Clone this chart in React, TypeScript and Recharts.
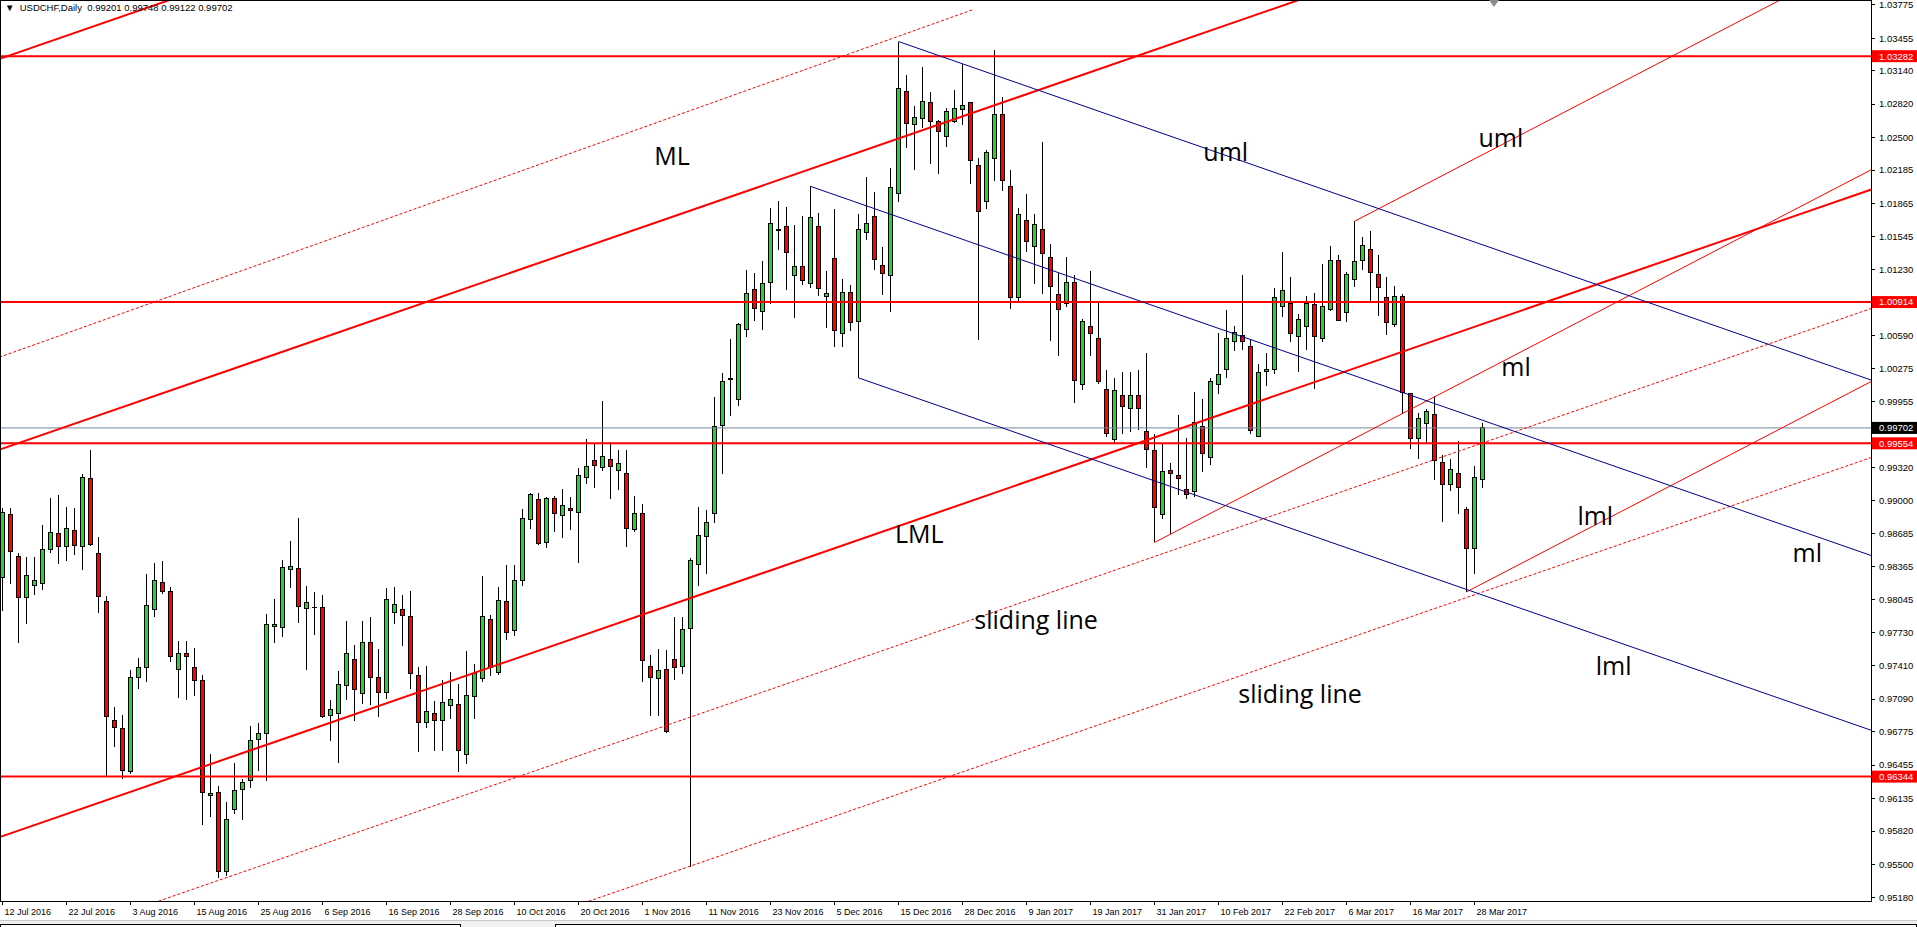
import React from 'react';
import { ComposedChart, Bar, XAxis, YAxis, ReferenceLine, ReferenceDot } from 'recharts';

// USDCHF daily bars, 12 Jul 2016 .. 29 Mar 2017
const opens = [
  0.98265, 0.98871, 0.98467, 0.98073, 0.98188, 0.98207, 0.98535, 0.98688, 0.98563, 0.98717,
  0.98563, 0.99218, 0.98496, 0.98034, 0.96880, 0.96803, 0.96396, 0.97294, 0.97390, 0.97957,
  0.98217, 0.98131, 0.97380, 0.97534, 0.97399, 0.97265, 0.96158, 0.96187, 0.95427, 0.96024,
  0.96216, 0.96303, 0.96697, 0.96755, 0.97793, 0.97783, 0.98342, 0.98352, 0.97966, 0.97970,
  0.97976, 0.96935, 0.96954, 0.97224, 0.97468, 0.97147, 0.97639, 0.97301, 0.97157, 0.97928,
  0.97957, 0.97889, 0.97320, 0.96867, 0.96954, 0.96887, 0.97031, 0.97041, 0.96559, 0.97118,
  0.97291, 0.97860, 0.97349, 0.98034, 0.97754, 0.98236, 0.98824, 0.99017, 0.98602, 0.99027,
  0.98861, 0.98930, 0.98887, 0.99220, 0.99384, 0.99316, 0.99395, 0.99294, 0.99263, 0.98723,
  0.98882, 0.97407, 0.97290, 0.97375, 0.97475, 0.97407, 0.97766, 0.98390, 0.98660, 0.98877,
  0.99728, 1.00172, 0.99977, 1.00654, 1.01034, 1.00823, 1.01098, 1.01611, 1.01642, 1.01172,
  1.01256, 1.01092, 1.01640, 1.00965, 1.01331, 1.00608, 1.01003, 1.00724, 1.01582, 1.01736,
  1.01264, 1.01167, 1.01958, 1.02941, 1.02623, 1.02681, 1.02835, 1.02652, 1.02508, 1.02652,
  1.02768, 1.02835, 1.02228, 1.01881, 1.02295, 1.02720, 1.02025, 1.00955, 1.01698, 1.01447,
  1.01611, 1.01341, 1.00984, 1.00897, 1.01104, 1.00120, 1.00679, 1.00563, 1.00072, 0.99589,
  1.00014, 0.99888, 1.00014, 0.99666, 0.99483, 0.98866, 0.99290, 0.99242, 0.99107, 0.99088,
  0.99715, 0.99416, 1.00120, 1.00264, 1.00534, 1.00592, 1.00486, 0.99618, 1.00245, 1.00264,
  1.00872, 1.00901, 1.00583, 1.00679, 1.00891, 1.00563, 1.00843, 1.01316, 1.00814, 1.01132,
  1.01316, 1.01422, 1.01181, 1.00959, 1.00698, 1.00969, 1.00030, 0.99599, 0.99744, 0.99830,
  0.99367, 0.99155, 0.99261, 0.98914, 0.98538, 0.99201,
];
const highs = [
  0.98930, 0.98932, 0.98496, 0.98461, 0.98461, 0.98769, 0.99025, 0.99057, 0.98942, 0.98932,
  0.99259, 0.99490, 0.98653, 0.98086, 0.97018, 0.96941, 0.97374, 0.97489, 0.98297, 0.98403,
  0.98422, 0.98169, 0.97653, 0.97653, 0.97585, 0.97322, 0.96566, 0.96255, 0.96104, 0.96479,
  0.96322, 0.96835, 0.96861, 0.97909, 0.98056, 0.98432, 0.98615, 0.98837, 0.98182, 0.98124,
  0.98095, 0.97079, 0.97362, 0.97838, 0.97613, 0.97838, 0.97883, 0.97571, 0.98162, 0.98172,
  0.98095, 0.98133, 0.97401, 0.97410, 0.97073, 0.97275, 0.97353, 0.97231, 0.97555, 0.97433,
  0.98278, 0.97902, 0.98172, 0.98378, 0.98384, 0.98924, 0.99078, 0.99078, 0.99036, 0.99046,
  0.99115, 0.99035, 0.99316, 0.99591, 0.99543, 0.99966, 0.99564, 0.99485, 0.99485, 0.99051,
  0.98966, 0.97518, 0.97570, 0.97560, 0.97877, 0.97877, 0.98454, 0.98945, 0.98908, 0.99998,
  1.00230, 1.00558, 1.00712, 1.01219, 1.01193, 1.01314, 1.01817, 1.01891, 1.01833, 1.01658,
  1.01743, 1.02028, 1.01768, 1.01209, 1.01807, 1.01138, 1.01081, 1.01765, 1.02115, 1.01971,
  1.01447, 1.02209, 1.03423, 1.03096, 1.02806, 1.03182, 1.02941, 1.02671, 1.02787, 1.02961,
  1.03202, 1.02845, 1.02305, 1.02382, 1.03337, 1.02893, 1.02189, 1.01823, 1.01958, 1.01765,
  1.02459, 1.01476, 1.01196, 1.01351, 1.01171, 1.00747, 1.01210, 1.00920, 1.00255, 1.00178,
  1.00245, 1.00245, 1.00264, 1.00428, 0.99647, 0.99560, 0.99367, 0.99830, 0.99602, 1.00052,
  0.99985, 1.00178, 1.00612, 1.00834, 1.00679, 1.01171, 1.00544, 1.00322, 1.00428, 1.01046,
  1.01393, 1.01152, 1.00795, 1.00969, 1.00997, 1.01277, 1.01451, 1.01364, 1.01200, 1.01692,
  1.01538, 1.01595, 1.01364, 1.01152, 1.01065, 1.00988, 1.00043, 0.99850, 0.99888, 1.00014,
  0.99445, 0.99406, 0.99580, 0.98943, 0.99338, 0.99748,
];
const lows = [
  0.97935, 0.98195, 0.97627, 0.97810, 0.98089, 0.98137, 0.98493, 0.98387, 0.98416, 0.98474,
  0.98329, 0.98560, 0.97916, 0.96341, 0.96626, 0.96322, 0.96367, 0.97191, 0.97252, 0.97877,
  0.98098, 0.97444, 0.97098, 0.97079, 0.97117, 0.95876, 0.95953, 0.95366, 0.95385, 0.95982,
  0.95924, 0.96232, 0.96396, 0.96303, 0.97629, 0.97693, 0.98156, 0.97828, 0.97375, 0.97703,
  0.96909, 0.96684, 0.96472, 0.97086, 0.96883, 0.97047, 0.97034, 0.96922, 0.97096, 0.97809,
  0.97597, 0.97186, 0.96578, 0.96809, 0.96594, 0.96594, 0.96896, 0.96385, 0.96463, 0.96896,
  0.97253, 0.97317, 0.97320, 0.97658, 0.97696, 0.98178, 0.98728, 0.98574, 0.98545, 0.98699,
  0.98644, 0.98723, 0.98401, 0.99162, 0.99125, 0.99289, 0.99014, 0.99104, 0.98559, 0.98702,
  0.97257, 0.96926, 0.96931, 0.96767, 0.97274, 0.97332, 0.95471, 0.98179, 0.98295, 0.98787,
  0.99263, 0.99813, 0.99913, 1.00574, 1.00727, 1.00648, 1.00897, 1.01415, 1.01029, 1.00764,
  1.01076, 1.01050, 1.00971, 1.00663, 1.00483, 1.00483, 1.00637, 1.00184, 1.01514, 1.01225,
  1.00984, 1.00820, 1.01881, 1.02401, 1.02186, 1.02594, 1.02244, 1.02148, 1.02411, 1.02643,
  1.02620, 1.02051, 1.00547, 1.01810, 1.02083, 1.01984, 1.00849, 1.00917, 1.01399, 1.01087,
  1.00991, 1.00541, 1.00396, 1.00869, 0.99943, 1.00068, 1.00396, 1.00129, 0.99618, 0.99560,
  0.99647, 0.99666, 0.99686, 0.99319, 0.98599, 0.98827, 0.98679, 0.99059, 0.99020, 0.99039,
  0.99281, 0.99348, 1.00033, 1.00178, 1.00438, 1.00457, 0.99647, 0.99615, 1.00101, 1.00226,
  1.00766, 1.00525, 1.00236, 1.00448, 1.00081, 1.00525, 1.00824, 1.00727, 1.00718, 1.01055,
  1.01219, 1.00911, 1.00776, 1.00592, 1.00670, 0.99840, 0.99502, 0.99406, 0.99551, 0.99203,
  0.98798, 0.99097, 0.98876, 0.98123, 0.98297, 0.99122,
];
const closes = [
  0.98891, 0.98512, 0.98073, 0.98278, 0.98236, 0.98535, 0.98698, 0.98563, 0.98737, 0.98573,
  0.99227, 0.98579, 0.98082, 0.96918, 0.96813, 0.96405, 0.97303, 0.97399, 0.97994, 0.98236,
  0.98131, 0.97505, 0.97534, 0.97496, 0.97265, 0.96187, 0.96178, 0.95427, 0.95927, 0.96206,
  0.96283, 0.96688, 0.96755, 0.97813, 0.97812, 0.98362, 0.98371, 0.97985, 0.98018, 0.97973,
  0.96925, 0.96986, 0.97234, 0.97533, 0.97186, 0.97639, 0.97301, 0.97157, 0.98053, 0.98005,
  0.97899, 0.97340, 0.96867, 0.96973, 0.96887, 0.97060, 0.97089, 0.96597, 0.97128, 0.97340,
  0.97889, 0.97398, 0.98043, 0.97735, 0.98236, 0.98834, 0.99056, 0.98593, 0.99027, 0.98882,
  0.98956, 0.98909, 0.99242, 0.99331, 0.99337, 0.99427, 0.99326, 0.99358, 0.98729, 0.98882,
  0.97465, 0.97301, 0.97364, 0.96777, 0.97396, 0.97756, 0.98427, 0.98665, 0.98787, 0.99717,
  1.00146, 1.00180, 1.00701, 1.00992, 1.00849, 1.01092, 1.01674, 1.01605, 1.01388, 1.01256,
  1.01124, 1.01732, 1.01042, 1.00994, 1.00637, 1.01003, 1.00714, 1.01611, 1.01669, 1.01322,
  1.01187, 1.02016, 1.02970, 1.02633, 1.02691, 1.02845, 1.02652, 1.02556, 1.02749, 1.02777,
  1.02806, 1.02276, 1.01784, 1.02353, 1.02720, 1.02083, 1.00955, 1.01756, 1.01495, 1.01659,
  1.01380, 1.01061, 1.00840, 1.01100, 1.00158, 1.00727, 1.00612, 1.00149, 0.99647, 1.00062,
  0.99908, 1.00014, 0.99888, 0.99493, 0.98933, 0.99281, 0.99261, 0.99213, 0.99059, 0.99753,
  0.99454, 1.00149, 1.00216, 1.00563, 1.00621, 1.00534, 0.99676, 1.00236, 1.00264, 1.00959,
  1.01026, 1.00612, 1.00747, 1.00901, 1.00583, 1.00872, 1.01316, 1.00737, 1.01181, 1.01306,
  1.01460, 1.01200, 1.01055, 1.00718, 1.00969, 1.00043, 0.99599, 0.99792, 0.99859, 0.99387,
  0.99155, 0.99300, 0.99126, 0.98538, 0.99223, 0.99702,
];

// bottom axis: one label every 8 bars, starting at bar 0
const dateLabels = [
  '12 Jul 2016', '22 Jul 2016', '3 Aug 2016', '15 Aug 2016', '25 Aug 2016', '6 Sep 2016',
  '16 Sep 2016', '28 Sep 2016', '10 Oct 2016', '20 Oct 2016', '1 Nov 2016', '11 Nov 2016',
  '23 Nov 2016', '5 Dec 2016', '15 Dec 2016', '28 Dec 2016', '9 Jan 2017', '19 Jan 2017',
  '31 Jan 2017', '10 Feb 2017', '22 Feb 2017', '6 Mar 2017', '16 Mar 2017', '28 Mar 2017',
];
const dateStep = 8;

const priceTicks = [
  1.03775, 1.03455, 1.0314, 1.0282, 1.025, 1.02185, 1.01865, 1.01545, 1.0123, 1.0059, 1.00275,
  0.99955, 0.9932, 0.99, 0.98685, 0.98365, 0.98045, 0.9773, 0.9741, 0.9709, 0.96775, 0.96455,
  0.96135, 0.9582, 0.955, 0.9518,
];

const levels = [1.03282, 1.00914, 0.99554, 0.96344];
const lastPrice = 0.99702;

// trend lines in [bar index, price] pairs
const thickRed = [
  [[-1, 1.03239], [25, 1.03933]],
  [[-1, 0.99476], [165, 1.03902]],
  [[-1, 0.95744], [240, 1.02169]],
];
const dottedRed = [
  [[-1, 1.00366], [121.2, 1.03727]],
  [[0, 0.94625], [240, 1.01023]],
  [[0, 0.9319], [240, 0.99588]],
];
const thinRed = [
  [[144, 0.98599], [240, 1.02445]],
  [[169, 1.01692], [240, 1.04536]],
  [[183, 0.98123], [240, 1.00406]],
];
const blueLines = [
  [[112, 1.03423], [240, 0.99991]],
  [[101, 1.02028], [240, 0.98301]],
  [[107, 1.00184], [240, 0.96618]],
];

const noteText = ['ML', 'uml', 'uml', 'LML', 'ml', 'lml', 'ml', 'sliding line', 'sliding line', 'lml'];
const noteBar = [83.7, 152.9, 187.3, 114.6, 189.2, 199.1, 225.6, 129.2, 162.2, 201.4];
const notePrice = [1.02321, 1.02359, 1.02494, 0.9868, 1.00289, 0.98854, 0.98498, 0.97852, 0.9714, 0.97409];

const data = opens.map((o, i) => ({ i, o, h: highs[i], l: lows[i], c: closes[i] }));
const dateTickIdx = dateLabels.map((_, k) => k * dateStep);

const AXIS_FONT = 'Liberation Sans, Arial, sans-serif';

const Candle = (props: any) => {
  const { x, y, width, height, payload } = props;
  if (x == null || y == null || !payload) return null;
  const { o, h, l, c } = payload;
  const top = Math.min(y, y + height);
  const span = Math.abs(height);
  const k = h === l ? 0 : span / (h - l);
  const py = (p: number) => top + (h - p) * k;
  const cx = x + width / 2;
  const bTop = py(Math.max(o, c));
  const bBot = py(Math.min(o, c));
  return (
    <g>
      <line x1={cx} x2={cx} y1={top} y2={top + span} stroke="#000" strokeWidth={1} shapeRendering="crispEdges" />
      <rect
        x={x + 0.5}
        y={bTop}
        width={width - 1}
        height={Math.max(bBot - bTop, 0.5)}
        fill={c >= o ? '#32CD32' : '#FF0000'}
        stroke="#000"
        strokeWidth={1}
        shapeRendering="crispEdges"
      />
    </g>
  );
};

const DateTick = (props: any) => {
  const { x, y, payload } = props;
  const label = dateLabels[Math.round(payload.value / dateStep)];
  return (
    <g>
      <line x1={x} x2={x} y1={y} y2={y + 4} stroke="#000" shapeRendering="crispEdges" />
      <text x={x + 2} y={y + 14} fontSize={9} fontFamily={AXIS_FONT} fill="#000">
        {label}
      </text>
    </g>
  );
};

const PriceTick = (props: any) => {
  const { x, y, payload } = props;
  return (
    <g>
      <line x1={x} x2={x + 4} y1={y} y2={y} stroke="#000" shapeRendering="crispEdges" />
      <text x={x + 8} y={y} dy="0.35em" fontSize={9.5} fontFamily={AXIS_FONT} fill="#000">
        {Number(payload.value).toFixed(5)}
      </text>
    </g>
  );
};

const priceTag = (bg: string, value: number) => (props: any) => {
  const vb = props.viewBox || {};
  const xr = (vb.x || 0) + (vb.width || 0);
  const yy = vb.y || 0;
  return (
    <g>
      <rect x={xr + 1} y={yy - 6} width={46} height={12} fill={bg} />
      <text x={xr + 8} y={yy} dy="0.35em" fontSize={9.5} fontFamily={AXIS_FONT} fill="#fff">
        {value.toFixed(5)}
      </text>
    </g>
  );
};

const noteLabel = (text: string) => (props: any) => {
  const vb = props.viewBox || {};
  const cx = (vb.x || 0) + (vb.width || 0) / 2;
  const cy = (vb.y || 0) + (vb.height || 0) / 2;
  return (
    <text x={cx} y={cy} dy="0.35em" textAnchor="middle" fontSize={25} fontFamily="'Open Sans', sans-serif" fill="#000">
      {text}
    </text>
  );
};

const seg = (s: number[][]) => [
  { x: s[0][0], y: s[0][1] },
  { x: s[1][0], y: s[1][1] },
];

export default function App() {
  return (
    <div style={{ position: 'absolute', left: 0, top: 0, width: 1917, height: 927, background: '#fff', overflow: 'hidden' }}>
      <ComposedChart width={1917} height={927} data={data} margin={{ top: 0, right: 0, bottom: 0, left: 0 }}>
        <XAxis
          dataKey="i"
          type="number"
          domain={[-0.3125, 233.5625]}
          allowDataOverflow
          ticks={dateTickIdx}
          interval={0}
          tick={<DateTick />}
          tickLine={false}
          axisLine={false}
          tickSize={0}
          tickMargin={0}
          height={26}
        />
        <YAxis
          orientation="right"
          type="number"
          domain={[0.95146, 1.03823]}
          allowDataOverflow
          ticks={priceTicks}
          interval={0}
          tick={<PriceTick />}
          tickLine={false}
          axisLine={false}
          tickSize={0}
          tickMargin={0}
          width={46}
        />
        {levels.map((v) => (
          <ReferenceLine key={'lv' + v} y={v} stroke="#FF0000" strokeWidth={2} label={priceTag('#FF0000', v)} />
        ))}
        <ReferenceLine y={lastPrice} stroke="#778899" strokeWidth={1} label={priceTag('#000000', lastPrice)} />
        {thickRed.map((s, k) => (
          <ReferenceLine key={'tr' + k} segment={seg(s)} ifOverflow="hidden" stroke="#FF0000" strokeWidth={2} />
        ))}
        {dottedRed.map((s, k) => (
          <ReferenceLine key={'dr' + k} segment={seg(s)} ifOverflow="hidden" stroke="#FF0000" strokeWidth={1} strokeDasharray="3 2" />
        ))}
        {thinRed.map((s, k) => (
          <ReferenceLine key={'nr' + k} segment={seg(s)} ifOverflow="hidden" stroke="#FF0000" strokeWidth={1} />
        ))}
        {blueLines.map((s, k) => (
          <ReferenceLine key={'bl' + k} segment={seg(s)} ifOverflow="hidden" stroke="#00008B" strokeWidth={1} />
        ))}
        <Bar dataKey={(d: any) => [d.l, d.h]} barSize={5} shape={<Candle />} isAnimationActive={false} />
        {noteText.map((t, k) => (
          <ReferenceDot
            key={'nt' + k}
            x={noteBar[k]}
            y={notePrice[k]}
            r={0}
            fill="none"
            stroke="none"
            label={noteLabel(t)}
          />
        ))}
      </ComposedChart>
      <div
        style={{
          position: 'absolute', left: 0, top: 0, width: 1872, height: 902,
          border: '1px solid #000', boxSizing: 'border-box', pointerEvents: 'none',
        }}
      />
      <div
        style={{
          position: 'absolute', left: 5, top: 2, fontFamily: AXIS_FONT, fontSize: 9.5,
          color: '#000', whiteSpace: 'pre', lineHeight: '12px',
        }}
      >
        {'\u25BC  USDCHF,Daily  0.99201 0.99748 0.99122 0.99702'}
      </div>
      <svg style={{ position: 'absolute', left: 1489, top: 0 }} width={11} height={9}>
        <polygon points="0,0 10,0 5,7" fill="#8c8c8c" />
      </svg>
      <div style={{ position: 'absolute', left: 0, top: 920, width: 1917, height: 7, background: '#f0f0f0', borderTop: '1px solid #c8c8c8' }} />
      <div style={{ position: 'absolute', left: 0, top: 924, width: 459, height: 6, border: '1px solid #000', background: '#fff' }} />
      <div style={{ position: 'absolute', left: 555, top: 924, width: 1360, height: 6, border: '1px solid #000', background: '#fff' }} />
    </div>
  );
}
